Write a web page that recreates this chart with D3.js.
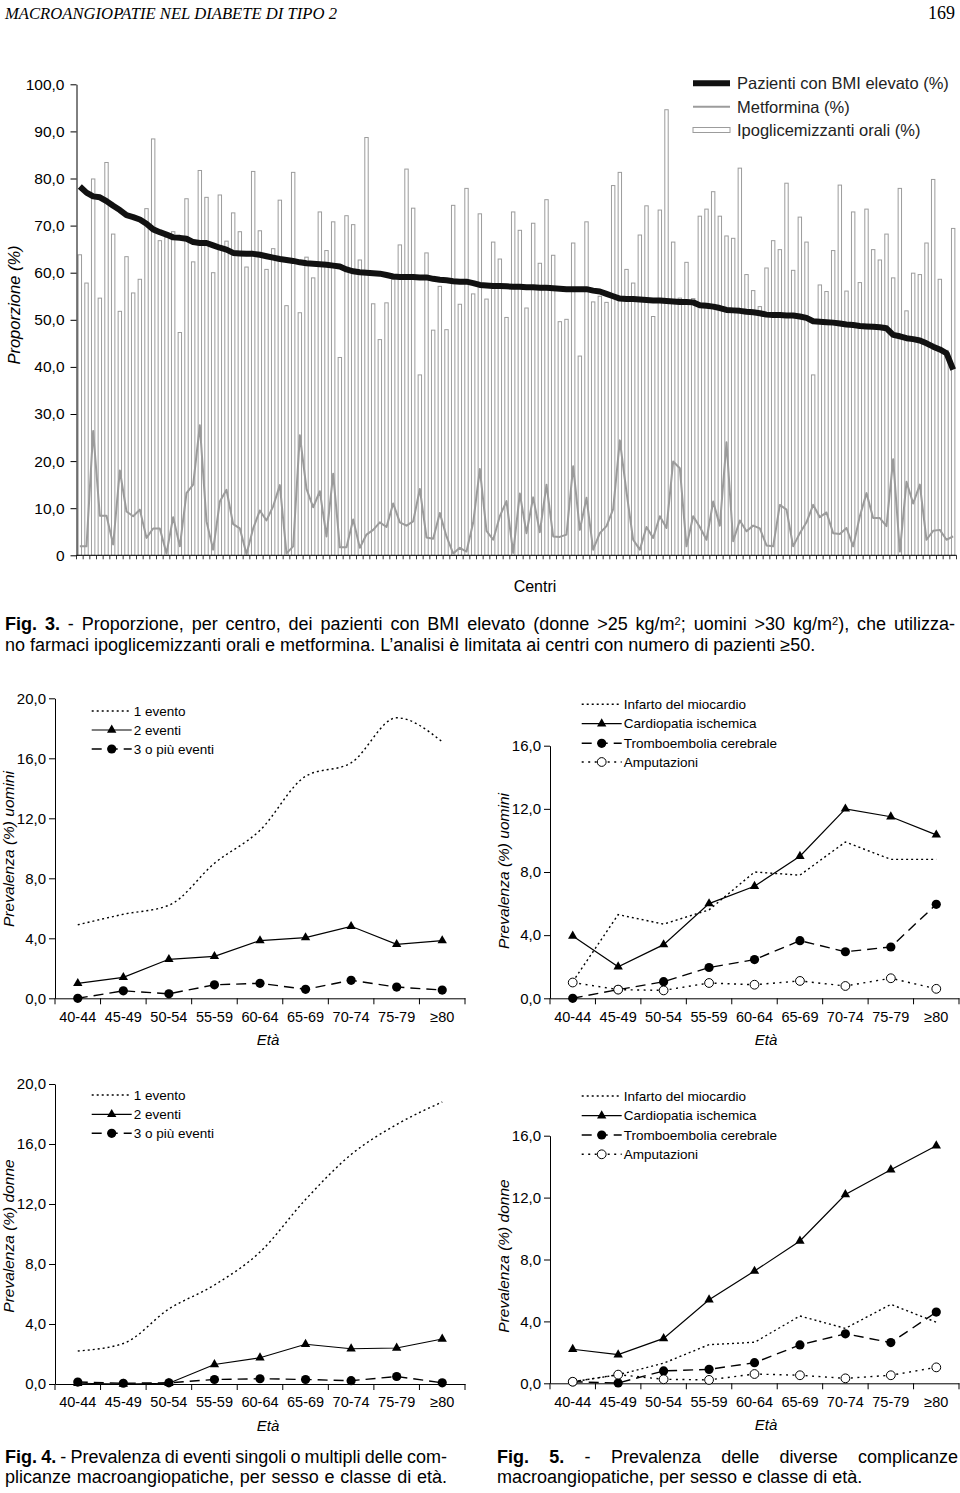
<!DOCTYPE html>
<html><head><meta charset="utf-8">
<script src="https://cdn.jsdelivr.net/npm/d3@7"></script>
<style>
body{margin:0;background:#fff;}
svg{display:block;}
</style></head><body>
<svg id="c" width="960" height="1493"></svg>
<script>
// ---------- DATA: Fig. 3 ----------
const centri = d3.range(1, 133);
const ipoglicemizzanti = [
63.8,57.8,79.9,54.6,83.4,68.2,51.8,63.4,55.7,58.6,73.6,88.4,66.8,67.5,68.7,47.3,75.7,62.3,81.7,76.0,60.0,76.5,66.7,72.7,68.7,61.2,81.5,68.9,60.7,65.1,75.4,53.0,81.3,51.5,63.3,58.9,72.9,64.7,70.8,42.0,72.1,70.2,62.7,88.7,
53.4,45.8,53.6,58.6,65.9,82.0,73.7,38.3,64.2,47.8,57.1,47.9,74.3,53.3,77.9,55.5,72.5,54.4,66.5,62.9,50.5,72.9,69.0,52.5,70.5,62.0,75.5,63.7,49.6,50.1,66.3,42.3,70.8,53.8,55.0,53.7,78.5,81.3,60.7,57.8,68.0,74.2,50.7,73.3,
94.6,66.5,54.6,62.2,54.5,72.0,73.5,77.2,72.0,67.8,67.3,82.2,59.6,56.2,52.8,61.0,66.8,64.9,79.0,60.5,71.8,66.5,38.3,57.4,56.0,64.7,78.6,56.1,72.9,57.9,73.5,64.9,62.7,68.2,58.9,77.9,51.9,59.9,59.6,66.3,79.8,58.6,43.5,69.4];
const metformina = [
1.9,1.9,26.4,8.4,8.4,2.3,18.0,9.3,8.3,9.7,3.7,5.7,5.7,0.4,8.1,1.9,13.2,15.0,27.6,7.2,1.2,11.4,13.9,6.6,5.7,0.3,5.7,9.5,7.4,10.4,14.9,0.4,1.9,25.5,14.1,10.2,13.6,4.0,17.3,1.7,1.7,7.6,1.6,4.4,
5.4,7.0,6.0,11.0,7.0,6.3,7.2,14.1,3.8,3.5,9.0,4.0,0.4,1.6,0.8,6.9,18.3,5.2,3.3,8.3,11.5,0.5,13.1,4.7,12.3,4.9,15.0,4.0,3.9,4.4,18.9,5.4,12.2,1.2,4.7,6.2,9.8,24.4,13.4,3.3,1.2,6.0,3.7,8.3,
5.8,19.9,18.5,1.9,8.3,6.0,3.3,11.4,6.3,24.0,3.0,7.4,5.1,6.3,5.7,2.1,1.9,10.7,9.7,1.9,4.7,7.0,10.7,8.1,9.1,4.7,4.5,5.8,1.9,8.3,13.2,7.9,7.9,6.2,20.4,0.8,15.6,11.0,15.0,3.3,5.2,5.4,3.3,4.0];
const bmiElevato = [
78.3,77.0,76.2,76.0,75.2,74.2,73.3,72.2,71.8,71.3,70.4,69.2,68.6,68.1,67.5,67.4,67.2,66.5,66.3,66.3,65.8,65.3,64.9,64.2,64.1,64.0,64.0,63.8,63.5,63.2,62.9,62.7,62.5,62.2,62.0,61.9,61.8,61.7,61.5,61.3,60.7,60.3,60.1,60.0,
59.9,59.8,59.5,59.2,59.1,59.1,59.1,59.0,59.0,58.7,58.5,58.4,58.2,58.1,58.1,57.8,57.4,57.3,57.2,57.2,57.1,57.0,57.0,56.9,56.9,56.8,56.8,56.7,56.6,56.5,56.5,56.5,56.5,56.2,56.0,55.5,55.0,54.5,54.4,54.4,54.3,54.2,54.1,54.1,
54.0,53.9,53.8,53.8,53.7,53.1,53.0,52.8,52.5,52.1,52.0,51.9,51.7,51.6,51.4,51.1,51.0,51.0,50.9,50.9,50.7,50.4,49.7,49.6,49.5,49.4,49.2,49.0,48.9,48.7,48.6,48.5,48.4,48.2,46.8,46.5,46.1,45.9,45.6,45.0,44.3,43.7,42.9,39.4];
const yTicksFig3 = [0,10,20,30,40,50,60,70,80,90,100];
const legendFig3 = ["Pazienti con BMI elevato (%)","Metformina (%)","Ipoglicemizzanti orali (%)"];

// ---------- DATA: Fig. 4 / Fig. 5 ----------
const classiEta = ["40-44","45-49","50-54","55-59","60-64","65-69","70-74","75-79","\u226580"];
const uomini1Evento = [4.9,5.6,6.2,9.0,11.2,14.8,15.7,18.7,17.1];
const uomini2Eventi = [1.0,1.4,2.6,2.8,3.85,4.05,4.8,3.6,3.85];
const uomini3Eventi = [0.0,0.5,0.3,0.9,1.0,0.6,1.2,0.75,0.55];
const donne1Evento = [2.2,2.7,5.0,6.6,8.8,12.3,15.3,17.3,18.8];
const donne2Eventi = [0.05,0.0,0.05,1.3,1.75,2.65,2.35,2.4,3.0];
const donne3Eventi = [0.13,0.05,0.08,0.3,0.35,0.3,0.22,0.5,0.08];
const uominiInfarto = [1.05,5.3,4.7,5.6,8.0,7.8,9.9,8.8,8.8];
const uominiCardiopatia = [3.95,2.0,3.4,6.0,7.1,9.0,12.0,11.5,10.35];
const uominiTromboembolia = [0.0,0.55,1.05,1.95,2.45,3.65,2.95,3.25,5.95];
const uominiAmputazioni = [1.0,0.55,0.5,0.97,0.86,1.1,0.78,1.27,0.6];
const donneInfarto = [0.1,0.55,1.3,2.5,2.65,4.35,3.55,5.1,3.95];
const donneCardiopatia = [2.2,1.85,2.9,5.4,7.25,9.2,12.2,13.8,15.35];
const donneTromboembolia = [0.1,0.02,0.8,0.9,1.33,2.48,3.2,2.63,4.6];
const donneAmputazioni = [0.1,0.56,0.26,0.22,0.6,0.52,0.32,0.52,1.03];
const yTicks20 = [0,4,8,12,16,20];
const yTicks16 = [0,4,8,12,16];
const nomiEventi = ["1 evento","2 eventi","3 o pi\u00f9 eventi"];
const nomiComplicanze = ["Infarto del miocardio","Cardiopatia ischemica","Tromboembolia cerebrale","Amputazioni"];

// ---------- DRAW ----------
const SANS = "'Liberation Sans', Arial, Helvetica, sans-serif";
const SERIF = "'Liberation Serif', 'Times New Roman', serif";
const svg = d3.select("#c").attr("font-family", SANS);

function justify(sel, target){
  const n = sel.node();
  const w = n.getComputedTextLength();
  const spaces = (n.textContent.match(/ /g) || []).length;
  if (spaces > 0) sel.attr("word-spacing", (target - w) / spaces);
}

// header
svg.append("text").attr("x",5).attr("y",19).attr("font-family",SERIF).attr("font-style","italic")
  .attr("font-size",17).attr("textLength",332).attr("lengthAdjust","spacingAndGlyphs")
  .text("MACROANGIOPATIE NEL DIABETE DI TIPO 2");
svg.append("text").attr("x",955).attr("y",19).attr("text-anchor","end").attr("font-family",SERIF)
  .attr("font-size",18).text("169");

// ----- Fig 3 -----
const GRAY = "#9c9c9c";
const xC = d3.scaleBand().domain(centri).range([76.5, 956.5]);
const yC = d3.scaleLinear().domain([0,100]).range([555.3, 84.3]);
const bw = xC.bandwidth();
const barW = 3.4;
const g3 = svg.append("g");

g3.selectAll("rect.bar").data(centri).join("rect").attr("class","bar")
  .attr("x", d => xC(d) + (bw - barW)/2)
  .attr("y", (d,i) => yC(ipoglicemizzanti[i]))
  .attr("width", barW)
  .attr("height", (d,i) => yC(0) - yC(ipoglicemizzanti[i]))
  .attr("fill","#fff").attr("stroke",GRAY).attr("stroke-width",1);

const lineC = d3.line().x((v,i) => xC(centri[i]) + bw/2).y(v => yC(v));
g3.append("path").datum(metformina).attr("d", lineC).attr("fill","none")
  .attr("stroke",GRAY).attr("stroke-width",2).attr("stroke-linejoin","round");
g3.append("path").datum(bmiElevato).attr("d", lineC).attr("fill","none")
  .attr("stroke","#111").attr("stroke-width",6).attr("stroke-linejoin","round");

// y axis
const fmt3 = v => v === 0 ? "0" : d3.format(".1f")(v).replace(".", ",");
g3.append("g").attr("transform","translate(76.5,0)")
  .call(d3.axisLeft(yC).tickValues(yTicksFig3).tickFormat(fmt3).tickSize(6).tickSizeOuter(0).tickPadding(6))
  .call(a => a.selectAll("text").attr("font-size",15.5).attr("font-family",SANS).attr("fill","#000"))
  .call(a => a.selectAll("line,path").attr("stroke","#000"));
// x axis with boundary ticks
g3.append("line").attr("x1",xC.range()[0]).attr("x2",xC.range()[1]).attr("y1",yC(0)).attr("y2",yC(0)).attr("stroke","#000");
const bounds = centri.map(d => xC(d)).concat([xC.range()[1]]);
g3.selectAll("line.xt").data(bounds).join("line").attr("class","xt")
  .attr("x1", d => d).attr("x2", d => d).attr("y1", yC(0)).attr("y2", yC(0)+4).attr("stroke","#000").attr("stroke-width",0.8);

svg.append("text").attr("transform","translate(20,305) rotate(-90)").attr("text-anchor","middle")
  .attr("font-style","italic").attr("font-size",16.5).text("Proporzione (%)");
svg.append("text").attr("x",535).attr("y",592).attr("text-anchor","middle").attr("font-size",16).text("Centri");

// legend Fig 3
const lg = svg.append("g");
const lgY = [83.3, 106.7, 130];
lg.append("line").attr("x1",693).attr("x2",730).attr("y1",lgY[0]).attr("y2",lgY[0]).attr("stroke","#111").attr("stroke-width",6);
lg.append("line").attr("x1",693).attr("x2",730).attr("y1",lgY[1]).attr("y2",lgY[1]).attr("stroke",GRAY).attr("stroke-width",2);
lg.append("rect").attr("x",693).attr("y",lgY[2]-2.5).attr("width",37).attr("height",5).attr("fill","#fff").attr("stroke",GRAY).attr("stroke-width",1);
lg.selectAll("text").data(legendFig3).join("text").attr("x",737).attr("y",(d,i)=>lgY[i]+6)
  .attr("font-size",16.5).attr("fill","#222").text(d=>d);

// Fig 3 caption
const cap1 = svg.append("text").attr("x",5).attr("y",630).attr("font-size",18);
cap1.append("tspan").attr("font-weight","bold").text("Fig. 3.");
cap1.append("tspan").text(" - Proporzione, per centro, dei pazienti con BMI elevato (donne >25 kg/m");
cap1.append("tspan").attr("font-size",11).attr("dy",-5).text("2");
cap1.append("tspan").attr("dy",5).text("; uomini >30 kg/m");
cap1.append("tspan").attr("font-size",11).attr("dy",-5).text("2");
cap1.append("tspan").attr("dy",5).text("), che utilizza-");
justify(cap1, 950);
svg.append("text").attr("x",5).attr("y",651).attr("font-size",18)
  .text("no farmaci ipoglicemizzanti orali e metformina. L\u2019analisi \u00e8 limitata ai centri con numero di pazienti \u226550.");

// ----- Panels -----
const fmtP = v => d3.format(".1f")(v).replace(".", ",");
const STY = {
  dotted: {dash:"2,3", w:1.4},
  solid: {dash:null, w:1.2},
  dashed: {dash:"10,6", w:1.4},
  dots: {dash:"2,4.5", w:1.4}
};
function panel(o){
  const g = svg.append("g");
  const x = d3.scaleBand().domain(classiEta).range([o.x0, o.x1]);
  const y = d3.scaleLinear().domain([0, o.yMax]).range([o.yb, o.yt]);
  g.append("g").attr("transform",`translate(${o.x0},0)`)
    .call(d3.axisLeft(y).tickValues(o.ticks).tickFormat(fmtP).tickSize(6).tickSizeOuter(0).tickPadding(3))
    .call(a => a.selectAll("text").attr("font-size",15).attr("font-family",SANS).attr("fill","#000"))
    .call(a => a.selectAll("line,path").attr("stroke","#000"));
  g.append("g").attr("transform",`translate(0,${o.yb})`)
    .call(d3.axisBottom(x).tickSize(0).tickPadding(13))
    .call(a => a.selectAll("text").attr("font-size",14.5).attr("font-family",SANS).attr("fill","#000"))
    .call(a => a.selectAll("path").attr("stroke","#000"));
  const b = classiEta.map(d => x(d)).concat([x.range()[1]]);
  g.selectAll("line.bt").data(b).join("line").attr("class","bt")
    .attr("x1",d=>d).attr("x2",d=>d).attr("y1",o.yb).attr("y2",o.yb+6).attr("stroke","#000");
  g.append("text").attr("x",o.etaX).attr("y",o.yb+47).attr("text-anchor","middle")
    .attr("font-style","italic").attr("font-size",15).text("Et\u00e0");
  g.append("text").attr("transform",`translate(${o.labX},${o.labY}) rotate(-90)`).attr("text-anchor","middle")
    .attr("font-style","italic").attr("font-size",15.5).text(o.yLabel);

  const cx = d => x(d) + x.bandwidth()/2;
  o.series.forEach((s, si) => {
    const st = STY[s.style];
    const ln = d3.line().x((v,i)=>cx(classiEta[i])).y(v=>y(v)).curve(s.smooth ? d3.curveMonotoneX : d3.curveLinear);
    g.append("path").datum(s.values).attr("d", ln).attr("fill","none").attr("stroke","#000")
      .attr("stroke-width",st.w).attr("stroke-dasharray",st.dash);
    drawMarkers(g, s.marker, s.values.map((v,i)=>[cx(classiEta[i]), y(v)]));
    // legend
    const ly = o.legY[si];
    g.append("line").attr("x1",o.legX).attr("x2",o.legX+40).attr("y1",ly).attr("y2",ly)
      .attr("stroke","#000").attr("stroke-width",st.w).attr("stroke-dasharray",st.dash);
    drawMarkers(g, s.marker, [[o.legX+20, ly]]);
    g.append("text").attr("x",o.legX+42).attr("y",ly+4.5).attr("font-size",13.5).text(s.name);
  });
}
function drawMarkers(g, m, pts){
  if (m === "tri") {
    g.selectAll(null).data(pts).join("path")
      .attr("d", d3.symbol(d3.symbolTriangle, 38)())
      .attr("transform", d => `translate(${d[0]},${d[1]})`).attr("fill","#000");
  } else if (m === "dot") {
    g.selectAll(null).data(pts).join("circle").attr("cx",d=>d[0]).attr("cy",d=>d[1]).attr("r",4.6).attr("fill","#000");
  } else if (m === "open") {
    g.selectAll(null).data(pts).join("circle").attr("cx",d=>d[0]).attr("cy",d=>d[1]).attr("r",4.4)
      .attr("fill","#fff").attr("stroke","#000").attr("stroke-width",1);
  }
}

panel({x0:55, x1:465, yb:998.3, yt:698.3, yMax:20, ticks:yTicks20, etaX:268, labX:14, labY:849,
  yLabel:"Prevalenza (%) uomini", legX:91.7, legY:[711,730,749],
  series:[
    {name:nomiEventi[0], values:uomini1Evento, style:"dotted", marker:null, smooth:true},
    {name:nomiEventi[1], values:uomini2Eventi, style:"solid", marker:"tri"},
    {name:nomiEventi[2], values:uomini3Eventi, style:"dashed", marker:"dot"}]});
panel({x0:550, x1:959, yb:998.3, yt:745.7, yMax:16, ticks:yTicks16, etaX:766, labX:509, labY:871,
  yLabel:"Prevalenza (%) uomini", legX:581.7, legY:[704.3,723.7,743.3,762],
  series:[
    {name:nomiComplicanze[0], values:uominiInfarto, style:"dotted", marker:null},
    {name:nomiComplicanze[1], values:uominiCardiopatia, style:"solid", marker:"tri"},
    {name:nomiComplicanze[2], values:uominiTromboembolia, style:"dashed", marker:"dot"},
    {name:nomiComplicanze[3], values:uominiAmputazioni, style:"dots", marker:"open"}]});
panel({x0:55, x1:465, yb:1384, yt:1084, yMax:20, ticks:yTicks20, etaX:268, labX:14, labY:1236,
  yLabel:"Prevalenza (%) donne", legX:91.7, legY:[1095,1114.3,1133.3],
  series:[
    {name:nomiEventi[0], values:donne1Evento, style:"dotted", marker:null, smooth:true},
    {name:nomiEventi[1], values:donne2Eventi, style:"solid", marker:"tri"},
    {name:nomiEventi[2], values:donne3Eventi, style:"dashed", marker:"dot"}]});
panel({x0:550, x1:959, yb:1383.3, yt:1135.7, yMax:16, ticks:yTicks16, etaX:766, labX:509, labY:1256,
  yLabel:"Prevalenza (%) donne", legX:581.7, legY:[1096,1115.7,1135,1154.3],
  series:[
    {name:nomiComplicanze[0], values:donneInfarto, style:"dotted", marker:null},
    {name:nomiComplicanze[1], values:donneCardiopatia, style:"solid", marker:"tri"},
    {name:nomiComplicanze[2], values:donneTromboembolia, style:"dashed", marker:"dot"},
    {name:nomiComplicanze[3], values:donneAmputazioni, style:"dots", marker:"open"}]});

// captions Fig 4 / Fig 5
const c4 = svg.append("text").attr("x",5).attr("y",1463).attr("font-size",18);
c4.append("tspan").attr("font-weight","bold").text("Fig. 4.");
c4.append("tspan").text(" - Prevalenza di eventi singoli o multipli delle com-");
justify(c4, 442);
const c4b = svg.append("text").attr("x",5).attr("y",1483).attr("font-size",18)
  .text("plicanze macroangiopatiche, per sesso e classe di et\u00e0.");
justify(c4b, 442);
const c5 = svg.append("text").attr("x",497).attr("y",1463).attr("font-size",18);
c5.append("tspan").attr("font-weight","bold").text("Fig. 5.");
c5.append("tspan").text(" - Prevalenza delle diverse complicanze");
justify(c5, 461);
svg.append("text").attr("x",497).attr("y",1483).attr("font-size",18)
  .text("macroangiopatiche, per sesso e classe di et\u00e0.");
</script>
</body></html>
